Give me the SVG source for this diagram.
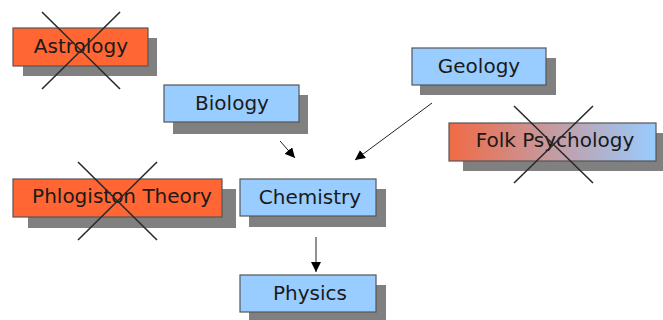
<svg xmlns="http://www.w3.org/2000/svg" width="663" height="320" viewBox="0 0 663 320">
<style>
.sh{fill:#808080}
.box{stroke:#555;stroke-width:1.2}
.blue{fill:#99ccff}
.orange{fill:#ff6633}
.t{font-family:"DejaVu Sans","Verdana",sans-serif;font-size:20px;fill:#1a1a1a;text-anchor:middle}
.x{stroke:#2a2a2a;stroke-width:1.6;fill:none}
.c{stroke:#222;stroke-width:1;fill:none}
</style>
<defs>
<linearGradient id="folk" x1="0" y1="0" x2="1" y2="0">
<stop offset="0" stop-color="#f06a45"/>
<stop offset="1" stop-color="#99ccff"/>
</linearGradient>
<marker id="ah" viewBox="0 0 10 10" refX="10" refY="5" markerWidth="10" markerHeight="10" markerUnits="userSpaceOnUse" orient="auto">
<path d="M0,0 L10,5 L0,10 z" fill="#000"/>
</marker>
</defs>
<g id="astrology">
<rect class="sh" x="23" y="38" width="134" height="38"/>
<rect class="box orange" x="13" y="28" width="135" height="38"/>
<text class="t" x="81" y="53">Astrology</text>
<line class="x" x1="42" y1="12" x2="120" y2="89"/>
<line class="x" x1="120" y1="12" x2="42" y2="89"/>
</g>
<g id="biology">
<rect class="sh" x="173" y="95" width="135" height="39"/>
<rect class="box blue" x="164" y="85" width="135" height="37"/>
<text class="t" x="232" y="110">Biology</text>
</g>
<g id="geology">
<rect class="sh" x="420" y="58" width="136" height="37"/>
<rect class="box blue" x="412" y="48" width="134" height="37"/>
<text class="t" x="479" y="73">Geology</text>
</g>
<g id="folk-psychology">
<rect class="sh" x="463" y="133" width="200" height="38"/>
<rect class="box" fill="url(#folk)" x="449" y="123" width="207" height="38"/>
<text class="t" x="555" y="147">Folk Psychology</text>
<line class="x" x1="514" y1="106" x2="593" y2="183"/>
<line class="x" x1="593" y1="106" x2="514" y2="183"/>
</g>
<g id="phlogiston-theory">
<rect class="sh" x="28" y="189" width="208" height="39"/>
<rect class="box orange" x="13" y="179" width="209" height="38"/>
<text class="t" x="122" y="203">Phlogiston Theory</text>
<line class="x" x1="78" y1="162" x2="157" y2="240"/>
<line class="x" x1="157" y1="162" x2="78" y2="240"/>
</g>
<g id="chemistry">
<rect class="sh" x="249" y="189" width="137" height="38"/>
<rect class="box blue" x="240" y="179" width="136" height="37"/>
<text class="t" x="310" y="204">Chemistry</text>
</g>
<g id="physics">
<rect class="sh" x="249" y="285" width="137" height="38"/>
<rect class="box blue" x="240" y="275" width="136" height="37"/>
<text class="t" x="310" y="300">Physics</text>
</g>
<g id="connectors">
<line class="c" x1="280" y1="141" x2="295" y2="158" marker-end="url(#ah)"/>
<line class="c" x1="432" y1="103" x2="355" y2="160" marker-end="url(#ah)"/>
<line class="c" x1="316" y1="237" x2="316" y2="272" marker-end="url(#ah)"/>
</g>
</svg>
